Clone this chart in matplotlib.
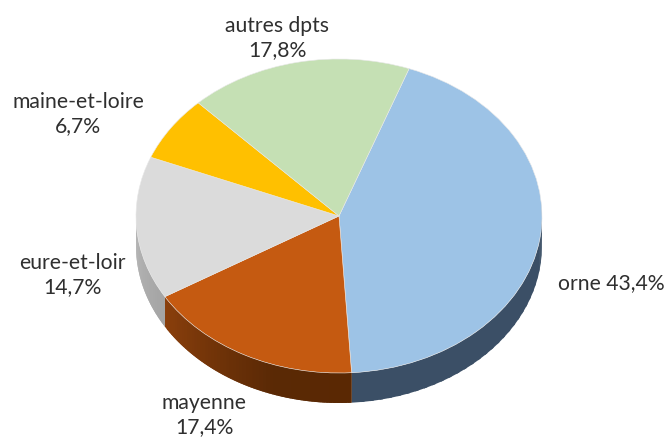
import numpy as np
import matplotlib
matplotlib.use("Agg")
import matplotlib.pyplot as plt
from matplotlib.colors import to_rgb

labels = ["orne", "mayenne", "eure-et-loir", "maine-et-loire", "autres dpts"]
values = [43.4, 17.4, 14.7, 6.7, 17.8]
texts = ["orne 43,4%", "mayenne\n17,4%", "eure-et-loir\n14,7%", "maine-et-loire\n6,7%", "autres dpts\n17,8%"]
top_colors = ["#9dc3e6", "#c55a11", "#dbdbdb", "#ffc000", "#c5e0b4"]
side_left = ["#3b4f66", "#8a3f0c", "#b8b8b8", "#b38600", "#8a9d7e"]
side_mid = ["#3b4f66", "#5a2905", "#b0b0b0", "#b38600", "#8a9d7e"]
side_right = ["#3b4f66", "#5a2803", "#a4a4a4", "#b38600", "#8a9d7e"]

W, H = 668, 440
CX, CY, RX, RY, DEPTH = 339, 216, 203, 157, 30
START = 69.8

fig = plt.figure(figsize=(W / 100, H / 100), dpi=100)
fig.patch.set_facecolor("white")
ax = fig.add_axes([0, 0, 1, 1])

edges = START - np.cumsum([0] + values) * 3.6
d = DEPTH / RY

# side wall, drawn as short shaded strips along the front of the rim;
# painted in order with a slight overlap so no seams show between strips
for i in range(len(values)):
    a0, a1 = edges[i + 1], edges[i]
    th = np.linspace(a0, a1, 60)
    l, m, r = map(lambda c: np.array(to_rgb(c)), (side_left[i], side_mid[i], side_right[i]))
    for j in range(len(th) - 1):
        t0, t1 = np.radians(th[j]), np.radians(min(th[j + 1] + 1.0, a1))
        if np.sin(t0) > 0.02 and np.sin(t1) > 0.02:
            continue
        f = j / (len(th) - 2)
        col = l + (m - l) * f / 0.65 if f < 0.65 else m + (r - m) * (f - 0.65) / 0.35
        xs = [np.cos(t0), np.cos(t1), np.cos(t1), np.cos(t0)]
        ys = [np.sin(t0), np.sin(t1), np.sin(t1) - d, np.sin(t0) - d]
        ax.fill(xs, ys, facecolor=col, edgecolor="none", zorder=1)

ax.pie(values, colors=top_colors, startangle=START, counterclock=False,
       wedgeprops=dict(linewidth=0.4, edgecolor="#e8e8e8"), radius=1, center=(0, 0))

ax.set_aspect("auto")
ax.set_xlim(-CX / RX, (W - CX) / RX)
ax.set_ylim((CY - H) / RY, CY / RY)
ax.axis("off")

font = dict(family="Lato", fontsize=15.2, color="#2f2f2f", ha="center", va="center", linespacing=1.27)
positions = [(611, 283), (204, 415), (72, 275), (78, 114), (277, 38)]
for t, (px, py) in zip(texts, positions):
    ax.text((px - CX) / RX, (CY - py) / RY, t, **font)

fig.savefig("out.png", dpi=100, facecolor="white")
